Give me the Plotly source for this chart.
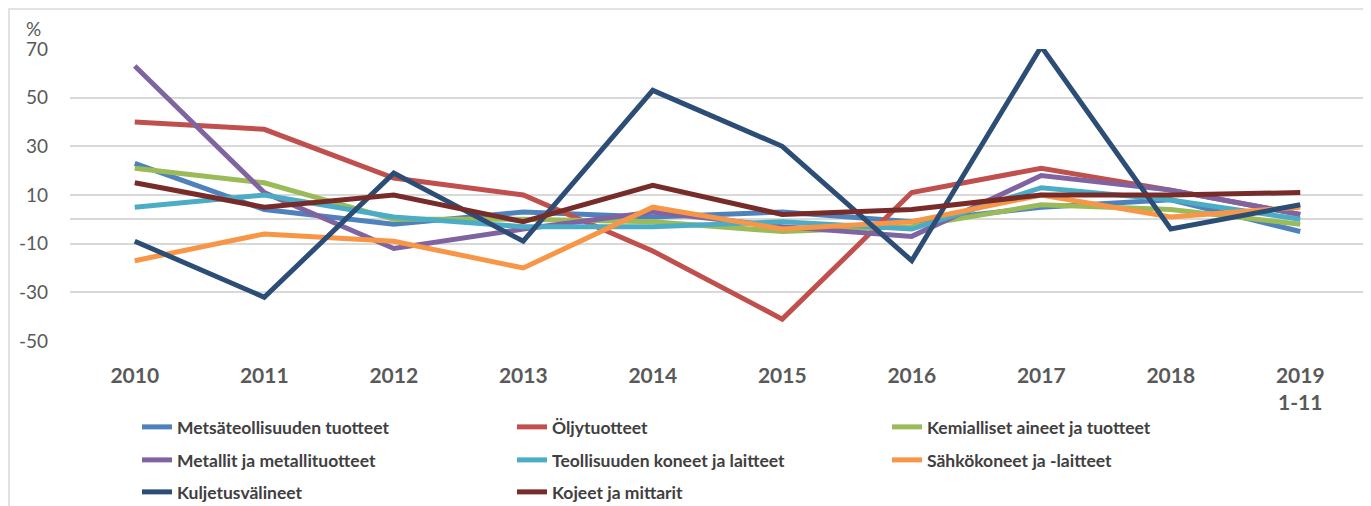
import plotly.graph_objects as go

years = ['2010', '2011', '2012', '2013', '2014', '2015', '2016', '2017', '2018', '2019<br>1-11']
y_ticks = [-50, -30, -10, 10, 30, 50, 70]

metsa = [23, 4, -2, 3, 1, 3, -1, 5, 8, -5]
oljy = [40, 37, 17, 10, -13, -41, 11, 21, 12, 2]
kemia = [21, 15, 0, 0, -1, -5, -3, 6, 4, -2]
metallit = [63, 11, -12, -4, 3, -3, -7, 18, 12, 2]
koneet = [5, 10, 1, -3, -3, -1, -4, 13, 8, 0]
sahko = [-17, -6, -9, -20, 5, -4, -1, 10, 1, 5]
kuljetus = [-9, -32, 19, -9, 53, 30, -17, 71, -4, 6]
kojeet = [15, 5, 10, -1, 14, 2, 4, 10, 10, 11]

series = [
    ('Metsäteollisuuden tuotteet', metsa, '#4F81BD', 'legend'),
    ('Öljytuotteet', oljy, '#C0504D', 'legend'),
    ('Kemialliset aineet ja tuotteet', kemia, '#9BBB59', 'legend'),
    ('Metallit ja metallituotteet', metallit, '#8064A2', 'legend2'),
    ('Teollisuuden koneet ja laitteet', koneet, '#4BACC6', 'legend2'),
    ('Sähkökoneet ja -laitteet', sahko, '#F79646', 'legend2'),
    ('Kuljetusvälineet', kuljetus, '#2C4D75', 'legend3'),
    ('Kojeet ja mittarit', kojeet, '#772C2A', 'legend3'),
]

fig = go.Figure()
for name, vals, col, leg in series:
    fig.add_trace(go.Scatter(x=years, y=vals, name=name, mode='lines',
                             line=dict(color=col, width=5), legend=leg))

# the page body adds an 8px offset, so the figure is a bit smaller than the window
OFF = 8
W, H = 1371 - OFF, 506 - OFF
L, R, T, B = 70 - OFF, 6, 49 - OFF, 165
pw, ph = W - L - R, H - T - B


def px(x):
    return (x - OFF - L) / pw


def py(y):
    return (H - B - (y - OFF)) / ph


leg_font = dict(family='Lato', size=17.5, color='#404040', weight='bold')
legend_common = dict(orientation='h', xanchor='left', yanchor='middle', x=px(137),
                     entrywidth=330, entrywidthmode='pixels', font=leg_font,
                     bgcolor='rgba(0,0,0,0)')

fig.update_layout(
    width=W, height=H,
    margin=dict(l=L, r=R, t=T, b=B, autoexpand=False),
    plot_bgcolor='white', paper_bgcolor='white',
    showlegend=True,
    legend=dict(legend_common, y=py(427)),
    legend2=dict(legend_common, y=py(460)),
    legend3=dict(legend_common, y=py(492)),
    xaxis=dict(range=[-0.5, 9.5], showgrid=False, showline=False, ticks='', ticklabelstandoff=20,
               tickfont=dict(family='Lato', size=21, color='#595959', weight='bold')),
    yaxis=dict(range=[-50, 70], tickvals=y_ticks, ticktext=[str(v) for v in y_ticks],
               showgrid=True, gridcolor='#D9D9D9', gridwidth=1.5,
               zeroline=True, zerolinecolor='#D9D9D9', zerolinewidth=1.5,
               tickfont=dict(family='Lato', size=19, color='#595959'), ticklabelstandoff=21),
    annotations=[dict(text='%', xref='paper', yref='paper', x=px(33), y=py(28),
                      xanchor='center', yanchor='middle', showarrow=False,
                      font=dict(family='Lato', size=19, color='#595959'))],
    shapes=[dict(type='rect', xref='paper', yref='paper', x0=px(9), x1=px(1367),
                 y0=py(520), y1=py(9), line=dict(color='#D9D9D9', width=1.5), layer='below')],
)

fig.write_html('out.html')
